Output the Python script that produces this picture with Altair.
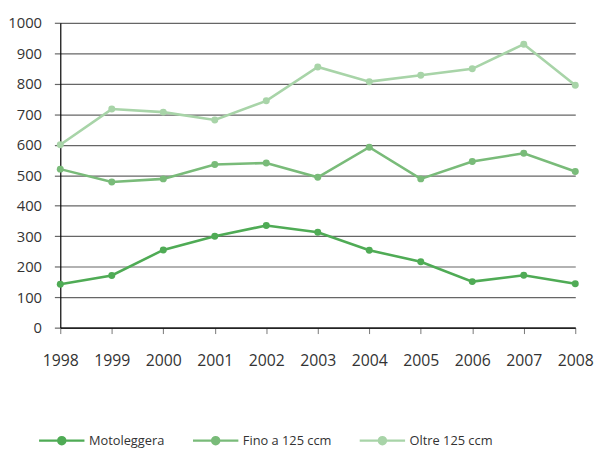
import altair as alt
import pandas as pd

years = [1998, 1999, 2000, 2001, 2002, 2003, 2004, 2005, 2006, 2007, 2008]
motoleggera = [142, 171, 255, 300, 335, 313, 254, 216, 151, 172, 144]
fino_125 = [520, 478, 488, 535, 540, 493, 592, 488, 545, 572, 512]
oltre_125 = [600, 717, 707, 681, 744, 855, 807, 828, 849, 930, 795]

series = ["Motoleggera", "Fino a 125 ccm", "Oltre 125 ccm"]
colors = ["#4fab55", "#79bb79", "#a8d4a8"]

rows = []
for name, vals in zip(series, [motoleggera, fino_125, oltre_125]):
    for y, v in zip(years, vals):
        rows.append({"anno": y, "valore": v, "serie": name})
df = pd.DataFrame(rows)

font = "Open Sans"
# line 46px wide with a dot, drawn in a 16px symbol box (1 unit = 8px)
legend_symbol = "M-2.875,0L2.875,0M-0.45,0A0.45,0.45 0 1,1 0.45,0A0.45,0.45 0 1,1 -0.45,0Z"

chart = alt.Chart(df).mark_line(
    strokeWidth=2.6,
    point=alt.OverlayMarkDef(size=50, filled=True, opacity=1),
).encode(
    x=alt.X(
        "anno:Q",
        scale=alt.Scale(domain=[1998, 2008], nice=False, zero=False),
        axis=alt.Axis(
            values=years, format="d", title=None, grid=False,
            domainColor="#000000", domainWidth=1.2,
            tickColor="#777777", tickSize=6, tickWidth=1,
            labelFont=font, labelFontSize=16, labelColor="#333333",
            labelPadding=19, labelFlush=False, labelBound=False, labelOverlap=False,
        ),
    ),
    y=alt.Y(
        "valore:Q",
        scale=alt.Scale(domain=[0, 1000], nice=False),
        axis=alt.Axis(
            values=list(range(0, 1001, 100)), title=None, format="d",
            grid=True, gridColor="#666666", gridWidth=1.2,
            domainColor="#000000", domainWidth=1.2,
            tickColor="#666666", tickSize=6, tickWidth=1.2,
            labelFont=font, labelFontSize=15, labelColor="#333333",
            labelPadding=13, labelFlush=False, labelBound=False,
        ),
    ),
    color=alt.Color(
        "serie:N",
        scale=alt.Scale(domain=series, range=colors),
        sort=series,
        legend=alt.Legend(
            title=None, orient="none", direction="horizontal",
            legendX=-8, legendY=414,
            symbolType=legend_symbol, symbolSize=256,
            symbolStrokeWidth=2.4,
            labelFont=font, labelFontSize=13, labelColor="#333333",
            labelOffset=18, columnPadding=23,
        ),
    ),
).properties(
    width=522,
    height=309,
    autosize=alt.AutoSizeParams(type="none"),
    padding={"left": 53, "top": 12, "right": 20, "bottom": 120},
).configure_view(stroke=None).configure_legend(symbolFillColor=None)

chart.save("out.html", embed_options={"renderer": "svg", "actions": False})
